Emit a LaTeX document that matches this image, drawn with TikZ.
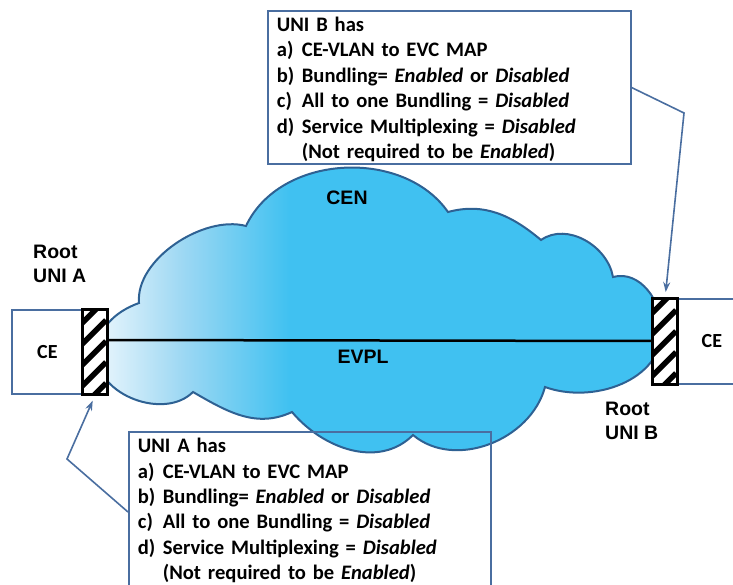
\documentclass[tikz,border=0pt]{standalone}
\usepackage{fontspec}
\setmainfont{Carlito}
\newfontfamily\arialfont{Liberation Sans}
\usetikzlibrary{arrows.meta}
\definecolor{cloudline}{HTML}{2E6193}
\definecolor{boxline}{HTML}{4A6EA0}
\definecolor{cloudlight}{HTML}{EAF6FD}
\definecolor{cloudmid}{HTML}{9ED8F3}
\definecolor{cloudmain}{HTML}{40C1F1}
\pgfdeclarehorizontalshading{cloudshade}{100bp}{color(0bp)=(cloudlight); color(25bp)=(cloudlight); color(32.5bp)=(cloudmid); color(42bp)=(cloudmain); color(100bp)=(cloudmain)}
\tikzset{
  cebox/.style={draw=boxline, line width=1.8pt, fill=white, anchor=north west, inner sep=0pt, font=\fontsize{20}{22}\selectfont\bfseries},
  unibox/.style={draw=black, line width=2.2pt, fill=white, anchor=north west, inner sep=0pt, minimum width=24pt},
  hatch/.style={line width=5.5pt, black},
  lbl/.style={font=\arialfont\fontsize{19.5}{24}\selectfont\bfseries, inner sep=0pt},
  infobox/.style={draw=boxline, line width=1.8pt, align=left, anchor=north west, inner xsep=9pt, inner ysep=2.5pt, font=\fontsize{20.6}{25.4}\selectfont\bfseries},
  conn/.style={draw=boxline, line width=1.6pt},
  tip/.style={-{Stealth[length=10pt,width=7pt]}, shorten >=6pt}
}
\newcommand{\itm}[1]{\makebox[25pt][l]{#1}}
\begin{document}
\begin{tikzpicture}[x=1pt,y=1pt]
\useasboundingbox (0,0) rectangle (733,-585);
% cloud
\shadedraw[shading=cloudshade, draw=cloudline, line width=2pt]
  (193,-392) to[out=225,in=270] (97,-355)
  to[out=90,in=200] (139,-303)
  to[out=95,in=165,looseness=0.85] (246,-226)
  to[out=65,in=125] (448,-212)
  to[out=15,in=140] (541,-240)
  to[out=35,in=100] (613,-277)
  to[out=15,in=90] (662,-330)
  to[out=270,in=-20] (545,-387)
  to[out=255,in=-40] (413,-435)
  to[out=225,in=-50] (292,-412)
  to[out=205,in=-30] (193,-392)
  -- cycle;
% CE boxes
\node[cebox, minimum width=71pt, minimum height=84pt] (ceA) at (11,-309) {CE};
\node[cebox, minimum width=70pt, minimum height=85pt] (ceB) at (676,-298) {CE};
% UNI hatched boxes
\node[unibox, minimum height=84pt] (uniA) at (82,-309) {};
\node[unibox, minimum height=85pt] (uniB) at (652,-298) {};
\begin{scope}
  \clip (uniA.south west) rectangle (uniA.north east);
  \foreach \k in {-1,...,5} \draw[hatch] ([yshift=\k*21pt-12pt]uniA.south west) -- ++(24,24);
\end{scope}
\begin{scope}
  \clip (uniB.south west) rectangle (uniB.north east);
  \foreach \k in {-1,...,5} \draw[hatch] ([yshift=\k*21pt-12pt]uniB.south west) -- ++(24,24);
\end{scope}
\draw[black, line width=2.2pt] (uniA.south west) rectangle (uniA.north east);
\draw[black, line width=2.2pt] (uniB.south west) rectangle (uniB.north east);
% EVPL line
\draw[black, line width=2.5pt] (uniA.east |- 0,-340) -- (uniB.west |- 0,-341);
% labels
\node[lbl] (cen) at (347,-198) {CEN};
\node[lbl] (evpl) at (363,-357) {EVPL};
\node[lbl, align=left, anchor=west] (rootA) at (33,-264) {Root\\UNI A};
\node[lbl, align=left, anchor=west] (rootB) at (605,-421) {Root\\UNI B};
% info boxes
\node[infobox, text width=345pt] (boxB) at (267,-10) {\rule{0pt}{18.2pt}UNI B has\\
\itm{a)}CE-VLAN to EVC MAP\\
\itm{b)}Bundling= \textit{Enabled} or \textit{Disabled}\\
\itm{c)}All to one Bundling = \textit{Disabled}\\
\itm{d)}Service Multiplexing = \textit{Disabled}\\
\hspace*{25pt}(Not required to be \textit{Enabled})};
\node[infobox, text width=344pt] (boxA) at (128,-431) {\rule{0pt}{18.2pt}UNI A has\\
\itm{a)}CE-VLAN to EVC MAP\\
\itm{b)}Bundling= \textit{Enabled} or \textit{Disabled}\\
\itm{c)}All to one Bundling = \textit{Disabled}\\
\itm{d)}Service Multiplexing = \textit{Disabled}\\
\hspace*{25pt}(Not required to be \textit{Enabled})\rule[-10pt]{0pt}{0pt}};
% connectors
\coordinate (bendB) at (684,-113);
\coordinate (bendA) at (67,-459);
\draw[conn, tip] (boxB.east) -- (bendB) -- (uniB.north);
\draw[conn, tip] (boxA.west) -- (bendA) -- (uniA.south);
\end{tikzpicture}
\end{document}
